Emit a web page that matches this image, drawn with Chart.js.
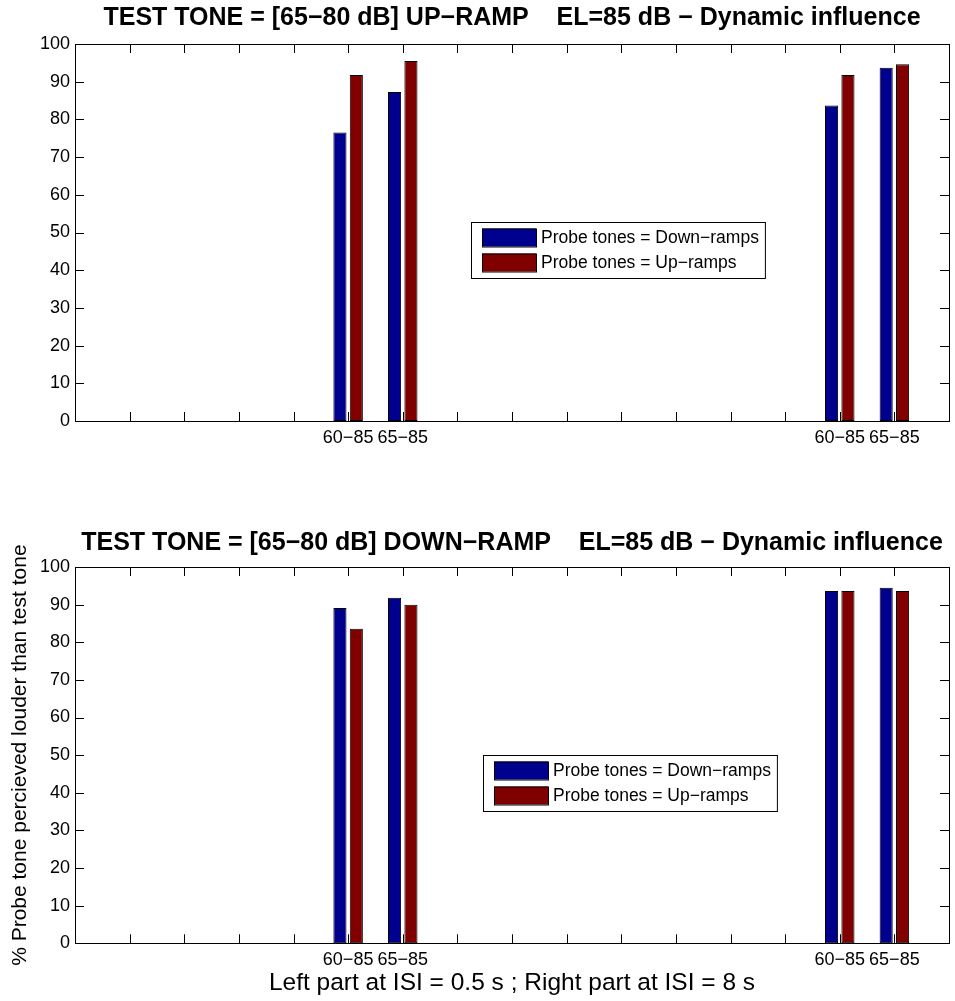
<!DOCTYPE html>
<html>
<head>
<meta charset="utf-8">
<script src="https://cdn.jsdelivr.net/npm/chart.js@4/dist/chart.umd.min.js"></script>
<style>
  html, body { margin: 0; padding: 0; background: #fff; }
  #wrap { position: relative; width: 955px; height: 1001px; }
  canvas { position: absolute; left: 0; }
</style>
</head>
<body>
<div id="wrap">
  <canvas id="upChart" width="955" height="480" style="top:0"></canvas>
  <canvas id="downChart" width="955" height="501" style="top:500px"></canvas>
</div>
<script>
// x positions 0..16 (MATLAB xlim [0 16]), only four of them carry bars
var xLabels = ['', '', '', '', '', '60−85', '65−85', '', '', '', '', '', '', '', '60−85', '65−85', ''];
var yTicks  = [0, 10, 20, 30, 40, 50, 60, 70, 80, 90, 100];

var seriesNames = ['Probe tones = Down−ramps', 'Probe tones = Up−ramps'];

// test tone = up-ramp
var upTestDown = [null, null, null, null, null, 76.5, 87.3, null, null, null, null, null, null, null, 83.7, 93.7, null];
var upTestUp   = [null, null, null, null, null, 91.8, 95.5, null, null, null, null, null, null, null, 91.8, 94.6, null];

// test tone = down-ramp
var downTestDown = [null, null, null, null, null, 89.1, 91.8, null, null, null, null, null, null, null, 93.6, 94.5, null];
var downTestUp   = [null, null, null, null, null, 83.6, 90.0, null, null, null, null, null, null, null, 93.6, 93.6, null];

var titles = [
  'TEST TONE = [65−80 dB] UP−RAMP    EL=85 dB − Dynamic influence',
  'TEST TONE = [65−80 dB] DOWN−RAMP    EL=85 dB − Dynamic influence'
];
var yTitle = '% Probe tone percieved louder than test tone';
var xTitle = 'Left part at ISI = 0.5 s ; Right part at ISI = 8 s';

var blue = 'rgb(0,0,143)';
var red  = 'rgb(128,0,0)';

Chart.defaults.font.family = '"Liberation Sans", Arial, Helvetica, sans-serif';
Chart.defaults.color = '#000';

// matlab style box with inward ticks on all four sides
var axesBox = {
  id: 'axesBox',
  beforeDatasetsDraw: function(chart){
    var ctx = chart.ctx, a = chart.chartArea;
    var x = chart.scales.x, y = chart.scales.y;
    var len = 9;
    ctx.save();
    ctx.strokeStyle = '#000';
    ctx.lineWidth = 1;
    ctx.beginPath();
    x.ticks.forEach(function(t, i){
      var px = Math.round(x.getPixelForTick(i)) + 0.5;
      ctx.moveTo(px, a.bottom); ctx.lineTo(px, a.bottom - len);
      ctx.moveTo(px, a.top);    ctx.lineTo(px, a.top + len);
    });
    y.ticks.forEach(function(t, i){
      var py = Math.round(y.getPixelForTick(i)) + 0.5;
      ctx.moveTo(a.left, py);  ctx.lineTo(a.left + len, py);
      ctx.moveTo(a.right, py); ctx.lineTo(a.right - len, py);
    });
    ctx.stroke();
    ctx.restore();
  },
  afterDatasetsDraw: function(chart){
    var ctx = chart.ctx, a = chart.chartArea;
    ctx.save();
    ctx.strokeStyle = '#000';
    ctx.lineWidth = 1;
    ctx.strokeRect(Math.round(a.left) + 0.5, Math.round(a.top) + 0.5,
                   Math.round(a.right - a.left), Math.round(a.bottom - a.top));
    ctx.restore();
  }
};

// legend box drawn inside the axes, like matlab's
var boxLegend = {
  id: 'boxLegend',
  afterDatasetsDraw: function(chart, args, o){
    var ctx = chart.ctx;
    var sets = chart.data.datasets;
    ctx.save();
    ctx.font = o.fontSize + 'px "Liberation Sans", Arial, sans-serif';
    var textW = 0;
    sets.forEach(function(d){ textW = Math.max(textW, ctx.measureText(d.label).width); });
    var w = o.padX + o.swatchW + o.gap + textW + o.padRight;
    var h = o.rowH * sets.length + o.padY * 2;
    ctx.fillStyle = '#fff';
    ctx.fillRect(o.left, o.top, w, h);
    ctx.strokeStyle = '#000';
    ctx.lineWidth = 1;
    ctx.strokeRect(o.left + 0.5, o.top + 0.5, w, h);
    sets.forEach(function(d, i){
      var cy = o.top + o.padY + o.rowH * i + o.rowH / 2;
      ctx.fillStyle = d.backgroundColor;
      ctx.fillRect(o.left + o.padX, cy - o.swatchH / 2, o.swatchW, o.swatchH);
      ctx.strokeRect(o.left + o.padX + 0.5, cy - o.swatchH / 2 + 0.5, o.swatchW, o.swatchH);
      ctx.fillStyle = '#000';
      ctx.textBaseline = 'middle';
      ctx.textAlign = 'left';
      ctx.fillText(d.label, o.left + o.padX + o.swatchW + o.gap, cy + 1);
    });
    ctx.restore();
  }
};

function make_chart(id, title, downVals, upVals, cfg){
  var ctx = document.getElementById(id);
  return new Chart(ctx, {
    type: 'bar',
    data: {
      labels: xLabels,
      datasets: [
        { label: seriesNames[0], data: downVals, backgroundColor: blue },
        { label: seriesNames[1], data: upVals,   backgroundColor: red }
      ]
    },
    options: {
      responsive: false,
      animation: false,
      events: [],
      layout: { padding: { left: 0, right: 3, top: 0, bottom: 0 } },
      datasets: {
        bar: {
          categoryPercentage: 0.6,
          barPercentage: 0.8,
          borderColor: '#000',
          borderWidth: 1,
          borderSkipped: false
        }
      },
      plugins: {
        legend: { display: false },
        tooltip: { enabled: false },
        title: {
          display: true,
          text: title,
          fullSize: false,
          font: { size: 25, weight: 'bold' },
          padding: cfg.titlePad
        },
        boxLegend: cfg.legend
      },
      scales: {
        x: {
          type: 'category',
          offset: false,
          grid: { display: false, drawTicks: false, offset: false },
          border: { display: false },
          ticks: { autoSkip: false, maxRotation: 0, minRotation: 0, padding: 6, font: { size: 18 } },
          title: cfg.xTitle,
          afterFit: function(s){ s.height = cfg.xHeight; }
        },
        y: {
          min: 0,
          max: 100,
          grid: { display: false, drawTicks: false },
          border: { display: false },
          ticks: { stepSize: 10, padding: 5, font: { size: 18 } },
          afterBuildTicks: function(s){ s.ticks = yTicks.map(function(v){ return { value: v }; }); },
          title: cfg.yTitle,
          afterFit: function(s){ s.width = 75; }
        }
      }
    },
    plugins: [axesBox, boxLegend]
  });
}

var legendStyle = { fontSize: 17.5, padX: 11, padY: 3, rowH: 25, swatchW: 54, swatchH: 18, gap: 5, padRight: 6 };

make_chart('upChart', titles[0], upTestDown, upTestUp, {
  titlePad: { top: 3, bottom: 11 },
  xHeight: 59,
  xTitle: { display: false },
  yTitle: { display: false },
  legend: Object.assign({ left: 471, top: 222 }, legendStyle)
});

make_chart('downChart', titles[1], downTestDown, downTestUp, {
  titlePad: { top: 28, bottom: 9 },
  xHeight: 57.7,
  xTitle: { display: true, text: xTitle, font: { size: 24.5 }, padding: { top: 0, bottom: 3 } },
  yTitle: { display: true, text: yTitle, font: { size: 21 }, padding: { top: 8, bottom: 0 } },
  legend: Object.assign({ left: 483, top: 255 }, legendStyle)
});
</script>
</body>
</html>
